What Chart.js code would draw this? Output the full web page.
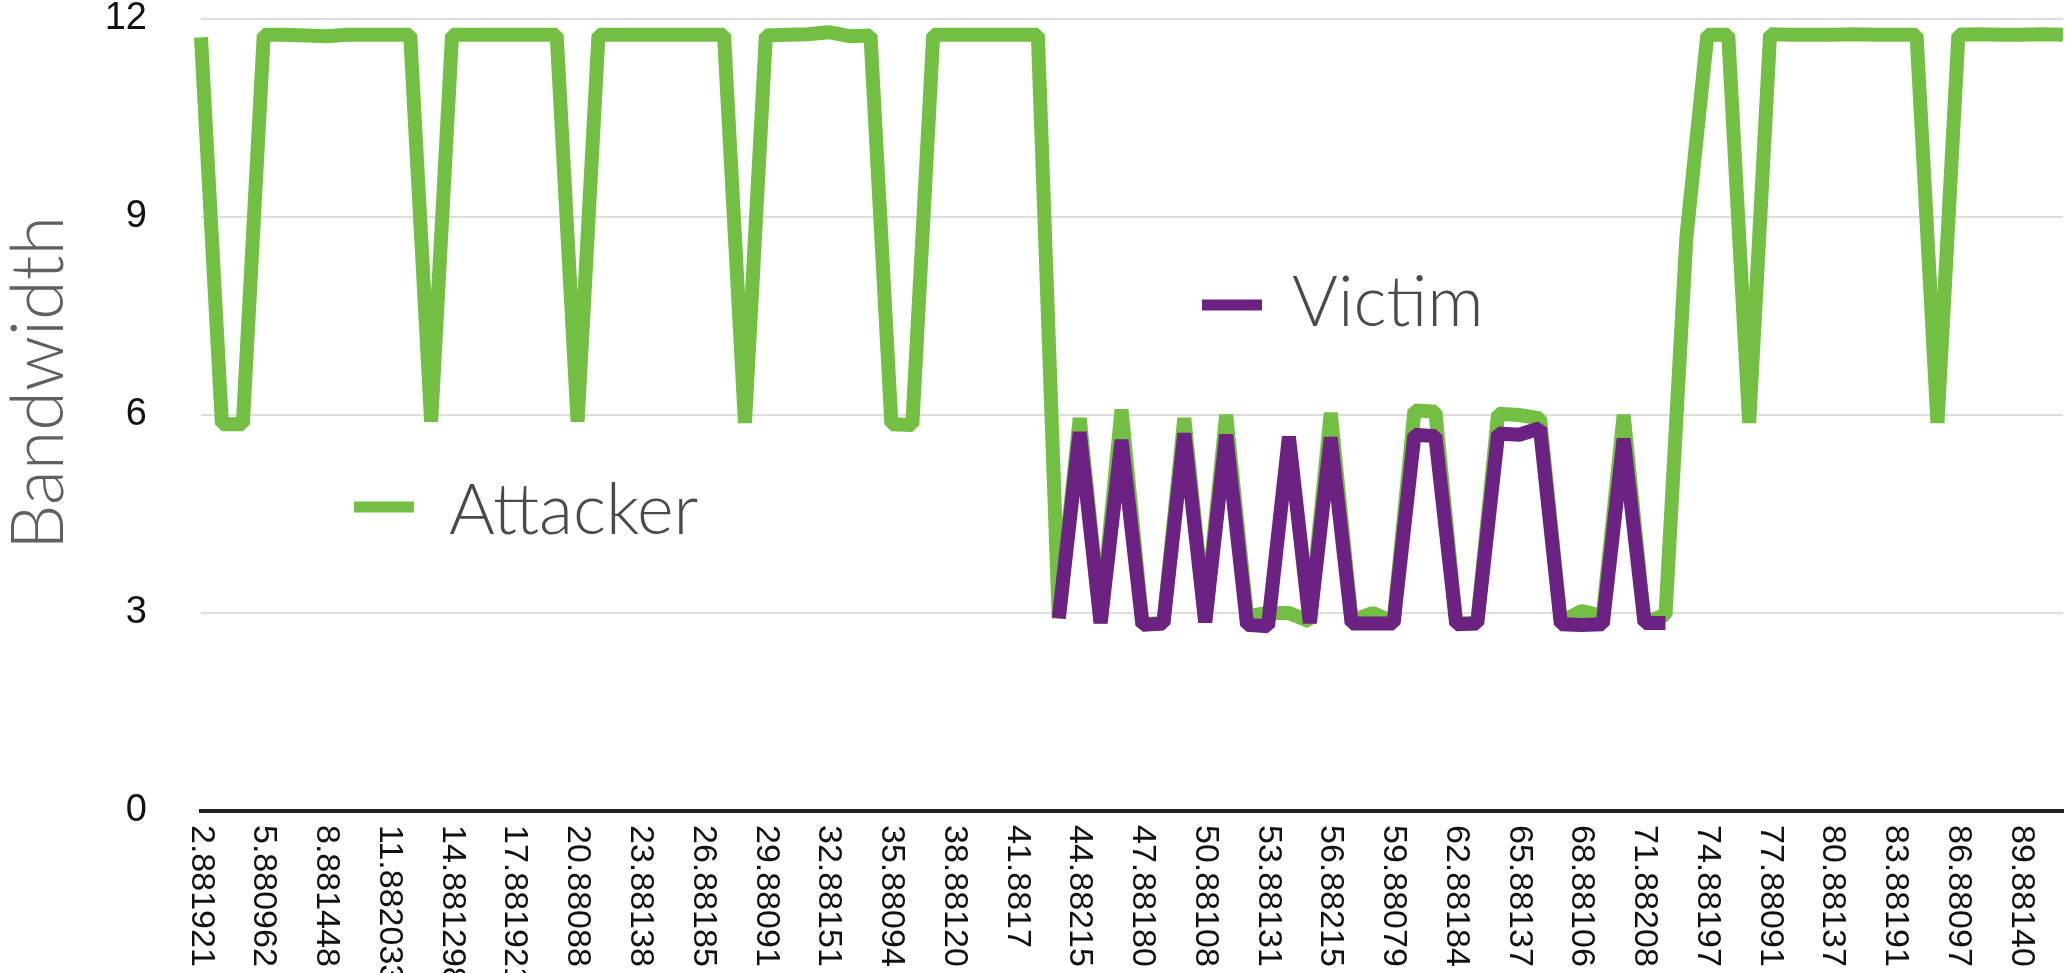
<!DOCTYPE html>
<html lang="en">
<head>
    <meta charset="UTF-8">
    <title>Bandwidth</title>
    <style>
        html, body { margin: 0; padding: 0; background: #fff; }
        .chart { position: relative; width: 2071px; height: 973px; }
    </style>
</head>
<body>
    <div class="chart">
        <canvas id="bandwidthChart"></canvas>
    </div>

    <script src="https://cdn.jsdelivr.net/npm/chart.js"></script>
    <script>
        // time stamps printed under the axis, one for every third sample
        const tickLabels = [
            '2.881921', '5.880962', '8.881448', '11.882033', '14.881298', '17.881921',
            '20.88088', '23.88138', '26.88185', '29.88091', '32.88151', '35.88094',
            '38.88120', '41.8817', '44.88215', '47.88180', '50.88108', '53.88131',
            '56.88215', '59.88079', '62.88184', '65.88137', '68.88106', '71.88208',
            '74.88197', '77.88091', '80.88137', '83.88191', '86.88097', '89.88140'
        ];

        const attacker = [
            11.72, 5.86, 5.86, 11.76, 11.76, 11.75, 11.74, 11.76, 11.76, 11.76,
            11.76, 5.90, 11.76, 11.76, 11.76, 11.76, 11.76, 11.76, 5.90, 11.76,
            11.76, 11.76, 11.76, 11.76, 11.76, 11.76, 5.88, 11.75, 11.76, 11.77,
            11.80, 11.74, 11.75, 5.86, 5.85, 11.76, 11.76, 11.76, 11.76, 11.76,
            11.76, 2.92, 5.95, 2.85, 6.08, 2.83, 2.85, 5.95, 2.87, 6.00,
            2.95, 3.00, 3.00, 2.87, 6.03, 2.88, 3.00, 2.86, 6.07, 6.05,
            2.84, 2.85, 6.02, 6.00, 5.95, 2.86, 3.03, 2.95, 6.00, 2.86,
            2.97, 8.70, 11.76, 11.76, 5.88, 11.77, 11.76, 11.76, 11.76, 11.77,
            11.76, 11.76, 11.76, 5.88, 11.76, 11.77, 11.76, 11.76, 11.77, 11.76
        ];

        const victim = [
            null, null, null, null, null, null, null, null, null, null,
            null, null, null, null, null, null, null, null, null, null,
            null, null, null, null, null, null, null, null, null, null,
            null, null, null, null, null, null, null, null, null, null,
            null, 2.92, 5.74, 2.85, 5.62, 2.82, 2.84, 5.72, 2.86, 5.70,
            2.82, 2.80, 5.67, 2.85, 5.66, 2.84, 2.84, 2.84, 5.70, 5.68,
            2.83, 2.84, 5.72, 5.70, 5.80, 2.83, 2.82, 2.83, 5.64, 2.85,
            2.85, null, null, null, null, null, null, null, null, null,
            null, null, null, null, null, null, null, null, null, null
        ];

        const yTicks = [0, 3, 6, 9, 12];

        const categories = attacker.map((_, i) => (i % 3 === 0 ? tickLabels[i / 3] : ''));

        const GREEN = '#72bf44';
        const PURPLE = '#6b2283';

        // axis texts and the in-plot legend
        const annotate = {
            id: 'annotate',
            afterDraw(chart) {
                const { ctx, chartArea, scales: { x } } = chart;
                ctx.save();

                // rotated time stamps, reading downwards
                ctx.fillStyle = '#111';
                ctx.font = '34px "Liberation Sans", Arial, sans-serif';
                ctx.textAlign = 'left';
                ctx.textBaseline = 'middle';
                categories.forEach((label, i) => {
                    if (!label) return;
                    ctx.save();
                    ctx.translate(x.getPixelForValue(i), chartArea.bottom + 14);
                    ctx.rotate(Math.PI / 2);
                    ctx.fillText(label, 0, 0);
                    ctx.restore();
                });

                // y axis title
                ctx.fillStyle = '#606060';
                ctx.font = '300 72px Lato, "Open Sans", sans-serif';
                ctx.textAlign = 'center';
                ctx.textBaseline = 'alphabetic';
                ctx.save();
                ctx.translate(63, 383);
                ctx.rotate(-Math.PI / 2);
                ctx.fillText('Bandwidth', 0, 0);
                ctx.restore();

                // legend entries sitting inside the plot
                ctx.font = '300 70px Lato, "Open Sans", sans-serif';
                const entries = [
                    { ds: chart.data.datasets[1], x: 354, y: 507, textX: 449, base: 534 },
                    { ds: chart.data.datasets[0], x: 1202, y: 305, textX: 1292, base: 326 }
                ];
                entries.forEach(e => {
                    ctx.strokeStyle = e.ds.borderColor;
                    ctx.lineWidth = 11;
                    ctx.lineCap = 'butt';
                    ctx.beginPath();
                    ctx.moveTo(e.x, e.y);
                    ctx.lineTo(e.x + 60, e.y);
                    ctx.stroke();
                    ctx.fillStyle = '#4a4a4a';
                    ctx.textAlign = 'left';
                    ctx.fillText(e.ds.label, e.textX, e.base);
                });

                ctx.restore();
            }
        };

        new Chart(document.getElementById('bandwidthChart'), {
            type: 'line',
            data: {
                labels: categories,
                datasets: [
                    {
                        label: 'Victim',
                        data: victim,
                        borderColor: PURPLE,
                        borderWidth: 14,
                        borderJoinStyle: 'bevel',
                        pointRadius: 0,
                        tension: 0,
                        spanGaps: false,
                        order: 1
                    },
                    {
                        label: 'Attacker',
                        data: attacker,
                        borderColor: GREEN,
                        borderWidth: 14,
                        borderJoinStyle: 'bevel',
                        pointRadius: 0,
                        tension: 0,
                        order: 2
                    }
                ]
            },
            options: {
                responsive: true,
                maintainAspectRatio: false,
                animation: false,
                layout: { padding: { top: 19, right: 8, left: 0, bottom: 0 } },
                plugins: {
                    legend: { display: false },
                    tooltip: { enabled: false }
                },
                scales: {
                    x: {
                        offset: false,
                        grid: { display: false },
                        border: { display: true, color: '#1e1e1e', width: 4 },
                        ticks: { display: false },
                        afterFit: scale => { scale.height = 162; }
                    },
                    y: {
                        min: 0,
                        max: 12,
                        afterBuildTicks: scale => { scale.ticks = yTicks.map(v => ({ value: v })); },
                        grid: { color: '#dddddd', lineWidth: 2, drawTicks: false },
                        border: { display: false },
                        ticks: {
                            padding: 54,
                            color: '#111',
                            font: { family: '"Liberation Sans", Arial, sans-serif', size: 38 }
                        },
                        afterFit: scale => {
                            scale.width = 201;
                            // the label gap should not push the plot down
                            scale.paddingTop = 0;
                            scale.paddingBottom = 0;
                        }
                    }
                }
            },
            plugins: [annotate]
        });
    </script>
</body>
</html>
